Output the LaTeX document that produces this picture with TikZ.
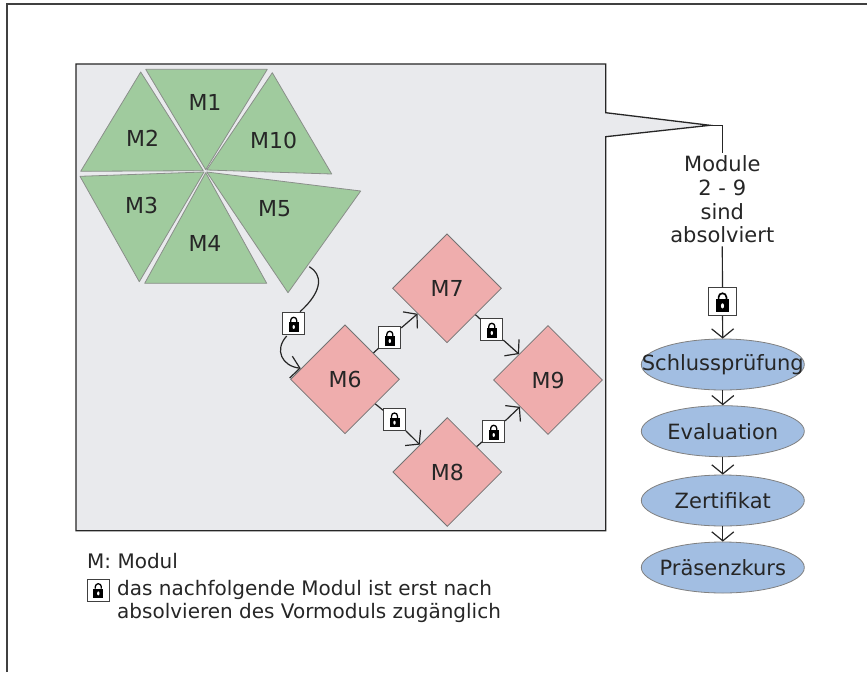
\documentclass[tikz,border=0pt]{standalone}
\usepackage{fontspec}
\setmainfont{DejaVu Sans}
\usetikzlibrary{shapes.geometric,arrows.meta}
\definecolor{panelgrey}{HTML}{E9EAED}
\definecolor{triGreen}{HTML}{A0CB9E}
\definecolor{diaPink}{HTML}{EFADAD}
\definecolor{ellBlue}{HTML}{A2BEE2}
\definecolor{inkText}{HTML}{262626}
\definecolor{shapeEdge}{HTML}{8A8F8A}
\tikzset{
  x=1pt,y=-1pt,
  every node/.style={text=inkText,font=\fontsize{21}{23.7}\selectfont},
  tri/.style={fill=triGreen,draw=shapeEdge,line width=0.8pt,line join=round},
  lab/.style={inner sep=0pt,font=\fontsize{22}{24}\selectfont},
  dia/.style={diamond,aspect=1,fill=diaPink,draw=black!55,line width=0.8pt,inner sep=0pt,minimum width=109pt,minimum height=109pt,font=\fontsize{22}{24}\selectfont},
  ell/.style={ellipse,fill=ellBlue,draw=black!50,line width=0.8pt,inner sep=0pt,minimum width=163pt,minimum height=51pt},
  lockbox/.style={draw=black!75,fill=white,line width=0.9pt,minimum size=22pt,inner sep=0pt,
    path picture={
      \fill[black] ([xshift=-5pt*#1,yshift=-7.7pt*#1]path picture bounding box.center) rectangle ([xshift=5pt*#1,yshift=1.7pt*#1]path picture bounding box.center);
      \draw[black,line width=1.3pt*#1] ([xshift=-3pt*#1,yshift=1.7pt*#1]path picture bounding box.center) -- ([xshift=-3pt*#1,yshift=3.5pt*#1]path picture bounding box.center) arc[start angle=180,end angle=0,radius=3pt*#1] -- ([xshift=3pt*#1,yshift=1.7pt*#1]path picture bounding box.center);
      \fill[white] ([yshift=-3.2pt*#1]path picture bounding box.center) ellipse[x radius=1.2pt*#1,y radius=2pt*#1];
    }},
  lockbox/.default=1,
  conn/.style={draw=inkText,line width=1.2pt},
  arr/.style={conn,-{Straight Barb[length=9pt,width=22pt]}},
  legend/.style={font=\fontsize{20}{23.5}\selectfont,anchor=base west,inner sep=0pt},
}
\begin{document}
\begin{tikzpicture}
\useasboundingbox (0,0) rectangle (867,672);
\fill[white] (0,0) rectangle (867,672);
\draw[black!75,line width=1.4pt] (7,672) -- (7,4) -- (867,4);
% panel with callout
\draw[fill=panelgrey,draw=black!85,line width=1.3pt,line join=miter]
  (76,64) -- (605.7,64) -- (605.7,112.7) -- (710,125.3) -- (605.7,136.7) -- (605.7,530.7) -- (76,530.7) -- cycle;
\coordinate (tip) at (710,125.3);
% triangles
\draw[tri] (145.7,69.3) -- (267.3,69.3) -- (205.7,169.7) -- cycle;
\draw[tri] (140.7,72) -- (80.7,171.3) -- (203.3,170.7) -- cycle;
\draw[tri] (272.3,72.7) -- (331.7,174) -- (206.7,170) -- cycle;
\draw[tri] (80,176.3) -- (139.3,281.7) -- (204,172) -- cycle;
\draw[tri] (205.7,172.7) -- (266.7,283.3) -- (144.7,283.3) -- cycle;
\draw[tri] (206.7,172) -- (360.7,191) -- (288,292.7) -- cycle;
\node[lab] (m1) at (205,102.3) {M1};
\node[lab] (m2) at (142.7,138.3) {M2};
\node[lab] (m10) at (273.7,140) {M10};
\node[lab] (m3) at (141.7,205) {M3};
\node[lab] (m4) at (205,243.3) {M4};
\node[lab] (m5) at (274.7,208.3) {M5};
\coordinate (m5out) at (309.3,266.7);
% diamonds
\node[dia] (M6) at (345,379.3) {M6};
\node[dia] (M7) at (447,288.3) {M7};
\node[dia] (M8) at (447.3,472) {M8};
\node[dia] (M9) at (548,380) {M9};
% locks
\node[lockbox] (L5) at (293.7,323.8) {};
\node[lockbox] (L67) at (389.8,337.8) {};
\node[lockbox] (L79) at (491.8,329.8) {};
\node[lockbox] (L68) at (394.5,419.5) {};
\node[lockbox] (L89) at (493.7,431.8) {};
% connectors
\coordinate (l5in) at (300,311.7);
\coordinate (l5out) at (286.7,336);
\coordinate (m6in) at (300.7,368.3);
\draw[conn] (m5out) .. controls (322,274) and (324,290) .. (l5in);
\draw[arr] (l5out) .. controls (274,350) and (282,366) .. (m6in);
\draw[conn] (M6) -- (L67);
\draw[arr] (L67) -- (M7);
\draw[conn] (M7) -- (L79);
\draw[arr] (L79) -- (M9);
\draw[conn] (M6) -- (L68);
\draw[arr] (L68) -- (M8);
\draw[conn] (M8) -- (L89);
\draw[arr] (L89) -- (M9);
% right column
\node[align=center,inner sep=3pt] (done) at (722.3,199.5) {Module\\2 - 9\\sind\\absolviert};
\node[lockbox=1.3,minimum size=28pt] (L10) at (722.5,301.7) {};
\node[ell] (E1) at (722.8,364.5) {\makebox[0pt]{Schlussprüfung}};
\node[ell] (E2) at (722.8,431.2) {\makebox[0pt]{Evaluation}};
\node[ell] (E3) at (722.8,500.5) {\makebox[0pt]{Zertifikat}};
\node[ell] (E4) at (722.8,567.5) {\makebox[0pt]{Präsenzkurs}};
\draw[conn] (tip) -| (done.north);
\draw[conn] (done.south) -- (L10);
\draw[arr] (L10) -- (E1);
\draw[arr] (E1) -- (E2);
\draw[arr] (E2) -- (E3);
\draw[arr] (E3) -- (E4);
% legend
\node[legend] (leg1) at (87,568) {M: Modul};
\node[lockbox] (legL) at (98.3,590.2) {};
\node[legend] (leg2) at (117,595) {das nachfolgende Modul ist erst nach};
\node[legend] (leg3) at (117,618.5) {absolvieren des Vormoduls zugänglich};
\end{tikzpicture}
\end{document}
